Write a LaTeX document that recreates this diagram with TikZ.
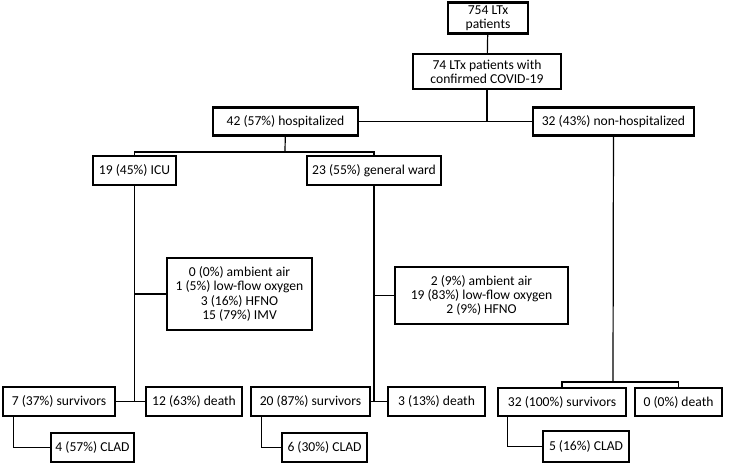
\documentclass[tikz,border=0pt]{standalone}
\usepackage{fontspec}
\setmainfont{Carlito}
\usepackage{tikz}

\tikzset{
  box/.style={draw, line width=2.4pt, align=center, inner sep=1pt,
    font=\fontsize{13.6pt}{14.2pt}\selectfont},
  link/.style={line width=1.2pt}
}

\begin{document}
\begin{tikzpicture}[x=1pt,y=-1pt]
\useasboundingbox (0,0) rectangle (729,465);
% top of the tree
\node[box, minimum width=80, minimum height=31] (lt) at (488,18) {754 LTx\\patients};
\node[box, minimum width=148, minimum height=35] (covid) at (487,71.5) {74 LTx patients with\\confirmed COVID-19};
\node[box, minimum width=145, minimum height=28] (hosp) at (285.5,121.5) {42 (57\%) hospitalized};
\node[box, minimum width=161, minimum height=28] (nonhosp) at (613.5,121.5) {32 (43\%) non-hospitalized};
% hospitalized
\node[box, minimum width=83, minimum height=29] (icu) at (134.5,170.5) {19 (45\%) ICU};
\node[box, minimum width=134, minimum height=29] (gw) at (374,170.5) {23 (55\%) general ward};
\node[box, minimum width=145, minimum height=72] (icuoxy) at (239.5,294) {0 (0\%) ambient air\\1 (5\%) low-flow oxygen\\3 (16\%) HFNO\\15 (79\%) IMV};
\node[box, minimum width=173, minimum height=57] (gwoxy) at (481.5,295.5) {2 (9\%) ambient air\\19 (83\%) low-flow oxygen\\2 (9\%) HFNO};
% outcomes
\node[box, minimum width=112, minimum height=29] (icusurv) at (59,401.5) {7 (37\%) survivors};
\node[box, minimum width=96, minimum height=29] (icudeath) at (194,401.5) {12 (63\%) death};
\node[box, minimum width=83, minimum height=29] (icuclad) at (92.5,447.5) {4 (57\%) CLAD};
\node[box, minimum width=119, minimum height=29] (gwsurv) at (310.5,401.5) {20 (87\%) survivors};
\node[box, minimum width=97, minimum height=29] (gwdeath) at (436.5,401.5) {3 (13\%) death};
\node[box, minimum width=85, minimum height=29] (gwclad) at (324.5,447.5) {6 (30\%) CLAD};
\node[box, minimum width=128, minimum height=28] (nsurv) at (562,402) {32 (100\%) survivors};
\node[box, minimum width=87, minimum height=28] (ndeath) at (678.5,402) {0 (0\%) death};
\node[box, minimum width=86, minimum height=31] (nclad) at (586,446.5) {5 (16\%) CLAD};

\coordinate (hbar) at (285,152);
\coordinate (nbar) at (613,382);

\draw[link] (lt) -- (covid);
\draw[link] (covid) -- (covid |- hosp);
\draw[link] (hosp) -- (nonhosp);
\draw[link] (hosp) -- (hbar);
\draw[link] (icu.north) |- (hbar) -| (gw.north);
% ICU branch
\draw[link] (icu) -- (icu |- icusurv);
\draw[link] (icu |- icuoxy) -- (icuoxy);
\draw[link] (icusurv) -- (icudeath);
\draw[link] ([xshift=12pt]icusurv.south west) |- (icuclad);
% general ward branch
\draw[link] (gw) -- (gw |- gwsurv);
\draw[link] (gw |- gwoxy) -- (gwoxy);
\draw[link] (gwsurv) -- (gwdeath);
\draw[link] ([xshift=12pt]gwsurv.south west) |- (gwclad);
% non-hospitalized branch
\draw[link] (nonhosp) -- (nbar);
\draw[link] (nsurv.north) |- (nbar) -| (ndeath.north);
\draw[link] ([xshift=11pt]nsurv.south west) |- (nclad);
\end{tikzpicture}
\end{document}
